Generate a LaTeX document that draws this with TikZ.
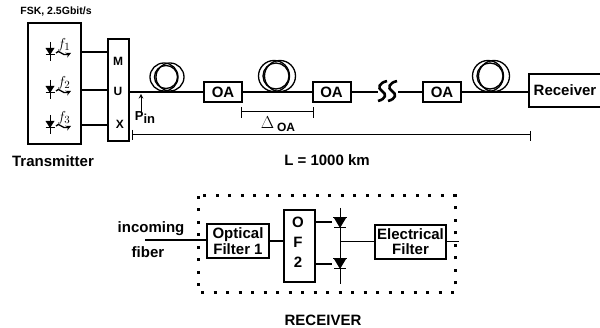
\documentclass[tikz,border=0pt]{standalone}
\usepackage{fontspec}
\setmainfont{Liberation Sans}
\usepackage{tikz}
\usetikzlibrary{arrows,positioning,calc}

\tikzset{
  lbl/.style={inner sep=0pt, font=\fontsize{15}{15}\selectfont\bfseries},
  box/.style={draw, line width=2pt, inner sep=0pt, align=center,
              font=\fontsize{15}{15}\selectfont\bfseries},
  oabox/.style={box, minimum width=38pt, minimum height=20pt},
  wire/.style={line width=2pt},
  thin wire/.style={line width=1pt}
}

\begin{document}
\begin{tikzpicture}[x=1pt,y=-1pt]
  \useasboundingbox (0,0) rectangle (600,328);

  % Transmitter and multiplexer
  \node[box, minimum width=53pt, minimum height=121pt] (tx) at (54,83.5) {};
  \node[box, minimum width=21pt, minimum height=102pt] (mux) at (118.5,90) {};
  \node[lbl] (fsk) at (56,12) {\fontsize{10.5}{11}\selectfont FSK, 2.5Gbit/s};
  \node[lbl] (txname) at (53,161) {Transmitter};
  \node[lbl, font=\fontsize{12}{12}\selectfont\bfseries] (muxm) at (118,61) {M};
  \node[lbl, font=\fontsize{12}{12}\selectfont\bfseries] (muxu) at (118,91) {U};
  \node[lbl, font=\fontsize{12}{12}\selectfont\bfseries] (muxx) at (120,124) {X};

  % Lasers: one diode, one label, one line to the mux
  \foreach \i/\yy in {1/52,2/90,3/125} {
    \coordinate (src\i) at (70,\yy);
    \draw[wire] (tx.east |- src\i) -- (mux.west |- src\i);
    \draw[thin wire] (50,\yy-10) -- (50,\yy+9);
    \fill (45.5,\yy-4) -- (54.5,\yy-4) -- (50,\yy+3) -- cycle;
    \draw[thin wire] (45.5,\yy+3) -- (54.5,\yy+3);
    \node[inner sep=0pt, font=\fontsize{15}{15}\selectfont\bfseries\itshape] (f\i) at (64,\yy-7) {$f_\i$};
    \draw[line width=1.3pt, ->, >=stealth] (56,\yy+1) .. controls (59,\yy-4) and (62,\yy+5) .. (71,\yy+1);
  }

  % Fiber line
  \node[oabox] (oaa) at (223,92) {OA};
  \node[oabox] (oab) at (331.5,92) {OA};
  \node[oabox] (oac) at (442,92) {OA};
  \node[box, minimum width=72pt, minimum height=33pt, anchor=west] (rx) at (528,90.5) {Receiver};
  \coordinate (brka) at (378,92);
  \coordinate (brkb) at (398,92);
  \draw[wire] (mux.east |- oaa.west) -- (oaa.west);
  \draw[wire] (oaa.east) -- (oab.west);
  \draw[wire] (oab.east) -- (brka);
  \draw[wire] (brkb) -- (oac.west);
  \draw[wire] (oac.east) -- (rx.west |- oac.east);

  % Fiber coils
  \foreach \cx/\cy/\cr in {167/77/14,277/76/15.5,491/76/15.5} {
    \draw[line width=1.3pt] (\cx-3,\cy) circle[radius=\cr];
    \draw[line width=1.3pt] (\cx+3,\cy) circle[radius=\cr];
    \draw[line width=1.3pt] (\cx-1,\cy) circle[radius=\cr-2.5];
  }

  % Line break
  \foreach \dx in {0,10} {
    \draw[line width=2.6pt] (387+\dx,81) .. controls (379+\dx,83) and (377+\dx,88) .. (382+\dx,91)
      .. controls (387+\dx,94) and (386+\dx,99) .. (378+\dx,101);
  }

  % Input power
  \coordinate (pin) at (141,94);
  \draw[thin wire, ->, >=stealth] (141,112) -- (pin);
  \node[lbl, font=\fontsize{13}{13}\selectfont\bfseries] (pinname) at (145,118) {P\raisebox{-3pt}{in}};

  % Amplifier spacing
  \coordinate (dla) at (241,112);
  \coordinate (dlb) at (313,112);
  \draw[thin wire] (dla) -- (dlb);
  \draw[thin wire] (241,107) -- (241,118);
  \draw[thin wire] (313,107) -- (313,118);
  \node[lbl, font=\fontsize{17}{17}\selectfont] (dlname) at (278,124)
    {$\Delta$\raisebox{-3pt}{\,\fontsize{12}{12}\selectfont\bfseries OA}};

  % Total length
  \coordinate (lena) at (132,135);
  \coordinate (lenb) at (530,135);
  \draw[thin wire] (lena) -- (lenb);
  \draw[thin wire] (132,130) -- (132,140);
  \draw[thin wire] (530,131) -- (530,141);
  \node[lbl] (lenname) at (327,160) {L = 1000 km};

  % Receiver detail
  \draw[line width=3pt, dash pattern=on 3pt off 9.5pt] (198,196) rectangle (455,293);
  \node[box, line width=1.4pt, minimum width=62pt, minimum height=34pt] (optf) at (238,241)
    {Optical\\[1pt]Filter 1};
  \node[box, line width=1.4pt, minimum width=31pt, minimum height=72pt] (ofb) at (299.5,246) {};
  \node[box, line width=1.4pt, minimum width=71pt, minimum height=34pt] (elf) at (410.5,242)
    {Electrical\\Filter};
  \node[lbl] (ofo) at (298,222) {O};
  \node[lbl] (off) at (298,242) {F};
  \node[lbl] (oft) at (298,262) {2};
  \node[lbl] (infa) at (151,229) {incoming};
  \node[lbl] (infb) at (148,252) {fiber};
  \node[lbl] (rxname) at (323,320) {RECEIVER};

  \coordinate (infc) at (145,240);
  \coordinate (outc) at (459,242);
  \coordinate (jun) at (340,242);
  \coordinate (pda) at (332,222);
  \coordinate (pdb) at (332,264);
  \draw[wire] (infc) -- (optf.west |- infc);
  \draw[wire] (optf.east) -- (ofb.west |- optf.east);
  \draw[wire] (ofb.east |- pda) -- (pda);
  \draw[wire] (ofb.east |- pdb) -- (pdb);
  \draw[thin wire] (340,208) -- (340,284);
  \draw[thin wire] (jun) -- (elf.west);
  \draw[thin wire] (elf.east) -- (outc);

  % Detector diodes
  \foreach \yy in {218,259} {
    \fill (334,\yy) -- (346,\yy) -- (340,\yy+10) -- cycle;
    \draw[thin wire] (333,\yy) -- (347,\yy);
    \draw[thin wire] (334,\yy+10) -- (346,\yy+10);
  }
\end{tikzpicture}
\end{document}
